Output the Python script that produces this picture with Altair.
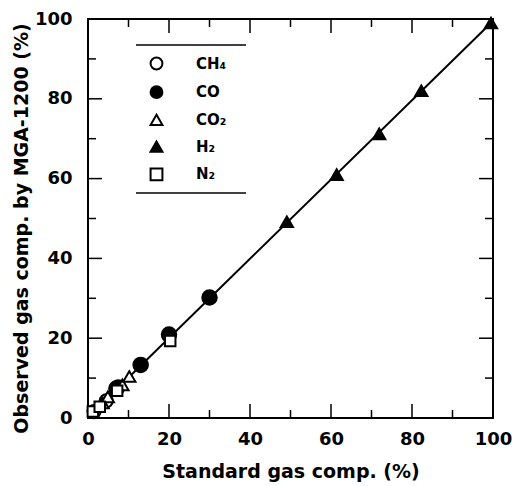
import altair as alt
import pandas as pd

# ---- data ----
ch4_x = [1.5, 4.5, 7.5]
ch4_y = [1.6, 4.3, 7.8]
co_x = [7.0, 13.0, 20.0, 30.0]
co_y = [7.4, 13.3, 20.9, 30.2]
co2_x = [3.6, 4.9, 8.5, 10.2]
co2_y = [3.8, 5.3, 8.3, 10.4]
h2_x = [49.1, 61.4, 71.9, 82.3, 99.5]
h2_y = [49.2, 61.0, 71.2, 82.0, 99.0]
n2_x = [1.2, 2.9, 7.2, 20.3]
n2_y = [1.6, 2.8, 6.8, 19.3]

line_x = [0, 100]
line_y = [0.2, 99.5]

gases = ["CH₄", "CO", "CO₂", "H₂", "N₂"]
shapes = ["circle", "circle", "triangle-up", "triangle-up", "square"]
fills = ["white", "black", "white", "black", "white"]
strokes = ["black", "black", "black", "black", "black"]
sizes = [170, 210, 150, 150, 110]

major_ticks = [0, 20, 40, 60, 80, 100]
minor_ticks = [10, 30, 50, 70, 90]

W, H = 405, 399
FONT = "DejaVu Sans"

rows = []
for g, sz, xs_, ys_ in zip(gases, sizes, [ch4_x, co_x, co2_x, h2_x, n2_x], [ch4_y, co_y, co2_y, h2_y, n2_y]):
    for a, b in zip(xs_, ys_):
        rows.append({"gas": g, "x": a, "y": b, "sz": sz})
pts = pd.DataFrame(rows)
line_df = pd.DataFrame({"x": line_x, "y": line_y})

xs = alt.Scale(domain=[0, 100], nice=False, zero=False)
ys = alt.Scale(domain=[0, 100], nice=False, zero=False)

xaxis = alt.Axis(values=major_ticks, ticks=False, tickSize=0, domain=False, grid=False,
                 labelFlush=False, labelOverlap=False,
                 labelPadding=12, labelFontSize=18, labelFont=FONT, labelFontWeight="bold",
                 labelColor="black", title="Standard gas comp. (%)", titleFont=FONT,
                 titleFontSize=19, titleFontWeight="bold", titleColor="black",
                 titleY=59, titleBaseline="alphabetic")
yaxis = alt.Axis(values=major_ticks, ticks=False, tickSize=0, domain=False, grid=False,
                 labelFlush=False, labelOverlap=False,
                 labelPadding=16, labelFontSize=18, labelFont=FONT, labelFontWeight="bold",
                 labelColor="black", title="Observed gas comp. by MGA-1200 (%)", titleFont=FONT,
                 titleFontSize=19, titleFontWeight="bold", titleColor="black",
                 titleX=-67, titleY=209, titleBaseline="middle", titleAlign="center", titleAngle=270)

legend = alt.Legend(title=None, orient="none", legendX=61, legendY=37, padding=0,
                    symbolSize=140, symbolStrokeWidth=2,
                    labelFont=FONT, labelFontSize=15, labelFontWeight="bold", labelColor="black",
                    labelOffset=32, rowPadding=7.7)

base_line = alt.Chart(line_df).mark_line(color="black", strokeWidth=2).encode(
    x=alt.X("x:Q", scale=xs, axis=xaxis),
    y=alt.Y("y:Q", scale=ys, axis=yaxis),
)

points = alt.Chart(pts).mark_point(filled=True, strokeWidth=2, opacity=1).encode(
    x=alt.X("x:Q", scale=xs),
    y=alt.Y("y:Q", scale=ys),
    shape=alt.Shape("gas:N", scale=alt.Scale(domain=gases, range=shapes), legend=legend),
    fill=alt.Fill("gas:N", scale=alt.Scale(domain=gases, range=fills), legend=legend),
    stroke=alt.Stroke("gas:N", scale=alt.Scale(domain=gases, range=strokes), legend=legend),
    size=alt.Size("sz:Q", scale=None),
)

tick_layers = []
for vals, ln in [(major_ticks, 14), (minor_ticks, 8)]:
    tdf = pd.DataFrame({"v": vals})
    tick_layers.append(alt.Chart(tdf).mark_rule(color="black", strokeWidth=1.5).encode(
        x=alt.X("v:Q", scale=xs), y=alt.value(H), y2=alt.value(H - ln)))
    tick_layers.append(alt.Chart(tdf).mark_rule(color="black", strokeWidth=1.5).encode(
        x=alt.X("v:Q", scale=xs), y=alt.value(0), y2=alt.value(ln)))
    tick_layers.append(alt.Chart(tdf).mark_rule(color="black", strokeWidth=1.5).encode(
        y=alt.Y("v:Q", scale=ys), x=alt.value(0), x2=alt.value(ln)))
    tick_layers.append(alt.Chart(tdf).mark_rule(color="black", strokeWidth=1.5).encode(
        y=alt.Y("v:Q", scale=ys), x=alt.value(W), x2=alt.value(W - ln)))

one = pd.DataFrame({"a": [0]})
leg_rules = [
    alt.Chart(one).mark_rule(color="black", strokeWidth=1.5).encode(
        x=alt.value(48), x2=alt.value(158), y=alt.value(yy))
    for yy in (26, 174)
]

chart = alt.layer(base_line, *tick_layers, *leg_rules, points).properties(
    width=W, height=H,
    autosize=alt.AutoSizeParams(type="none"),
    padding={"left": 80, "top": 11, "right": 19, "bottom": 67},
).configure_view(stroke="black", strokeWidth=2)

chart.save("out.html", embed_options={"renderer": "svg", "actions": False})
